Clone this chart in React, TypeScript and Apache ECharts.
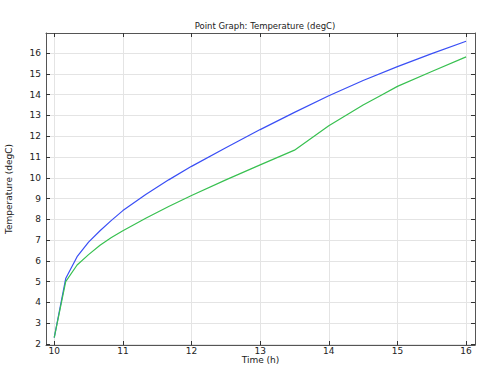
import React, { useEffect, useRef } from "react";
import * as echarts from "echarts";

const timeBlue = [10, 10.167, 10.333, 10.5, 10.667, 10.833, 11, 11.333, 11.667, 12, 12.5, 13, 13.5, 14, 14.5, 15, 15.5, 16];
const tempBlue = [2.3, 5.15, 6.2, 6.9, 7.45, 7.95, 8.42, 9.2, 9.9, 10.55, 11.45, 12.32, 13.15, 13.95, 14.68, 15.35, 15.98, 16.57];
const timeGreen = [10, 10.167, 10.333, 10.5, 10.667, 10.833, 11, 11.333, 11.667, 12, 12.5, 13, 13.5, 14, 14.5, 14.75, 15, 15.5, 16];
const tempGreen = [2.3, 5.0, 5.8, 6.3, 6.75, 7.12, 7.45, 8.05, 8.62, 9.15, 9.9, 10.62, 11.33, 12.5, 13.5, 13.95, 14.4, 15.12, 15.82];
const xTicks = [10, 11, 12, 13, 14, 15, 16];
const yTicks = [2, 3, 4, 5, 6, 7, 8, 9, 10, 11, 12, 13, 14, 15, 16];

const FONT = "DejaVu Sans";

export default function App() {
  const ref = useRef<HTMLDivElement>(null);
  useEffect(() => {
    const chart = echarts.init(ref.current!, null, { renderer: "svg" });
    const xMin = 9.88, xMax = 16.13, yMin = 1.95, yMax = 16.97;
    const common = {
      axisLine: { show: true, onZero: false, lineStyle: { color: "#555", width: 1 } },
      axisTick: { show: true, inside: true, length: 4, lineStyle: { color: "#333" } },
    };
    chart.setOption({
      animation: false,
      backgroundColor: "#fff",
      title: {
        text: "Point Graph: Temperature (degC)",
        left: 260,
        textAlign: "center",
        top: 16,
        textStyle: { fontFamily: FONT, fontSize: 8.5, fontWeight: "normal", color: "#222" },
      },
      grid: { left: 46, right: 23, top: 33, bottom: 33, outerBoundsMode: "none", containLabel: false },
      xAxis: [
        {
          type: "value", min: xMin, max: xMax,
          name: "Time (h)", nameLocation: "middle", nameGap: 10, nameMoveOverlap: false,
          nameTextStyle: { fontFamily: FONT, fontSize: 9, color: "#222", lineHeight: 9 },
          ...common,
          axisTick: { ...common.axisTick, customValues: xTicks },
          axisLabel: { customValues: xTicks, fontFamily: FONT, fontSize: 9, color: "#222", margin: 1, lineHeight: 9 },
          splitLine: { show: true, lineStyle: { color: "#e4e4e4" } },
        },
        {
          type: "value", min: xMin, max: xMax, position: "top",
          ...common,
          axisTick: { ...common.axisTick, customValues: xTicks },
          axisLabel: { show: false, customValues: xTicks },
          splitLine: { show: false },
        },
      ],
      yAxis: [
        {
          type: "value", min: yMin, max: yMax,
          name: "Temperature (degC)", nameLocation: "middle", nameGap: 33, nameMoveOverlap: false,
          nameTextStyle: { fontFamily: FONT, fontSize: 9, color: "#222" },
          ...common,
          axisTick: { ...common.axisTick, customValues: yTicks },
          axisLabel: { customValues: yTicks, fontFamily: FONT, fontSize: 9, color: "#222", margin: 5 },
          splitLine: { show: true, lineStyle: { color: "#e4e4e4" } },
        },
        {
          type: "value", min: yMin, max: yMax, position: "right",
          ...common,
          axisTick: { ...common.axisTick, customValues: yTicks },
          axisLabel: { show: false, customValues: yTicks },
          splitLine: { show: false },
        },
      ],
      series: [
        {
          type: "line", showSymbol: false, symbol: "none",
          data: timeBlue.map((t, i) => [t, tempBlue[i]]),
          lineStyle: { color: "#3a4ff5", width: 1.2 },
          itemStyle: { color: "#3a4ff5" },
        },
        {
          type: "line", showSymbol: false, symbol: "none",
          data: timeGreen.map((t, i) => [t, tempGreen[i]]),
          lineStyle: { color: "#38c050", width: 1.2 },
          itemStyle: { color: "#38c050" },
        },
      ],
    });
    return () => chart.dispose();
  }, []);
  return <div ref={ref} style={{ width: 498, height: 378, position: "absolute", left: 0, top: 0 }} />;
}
